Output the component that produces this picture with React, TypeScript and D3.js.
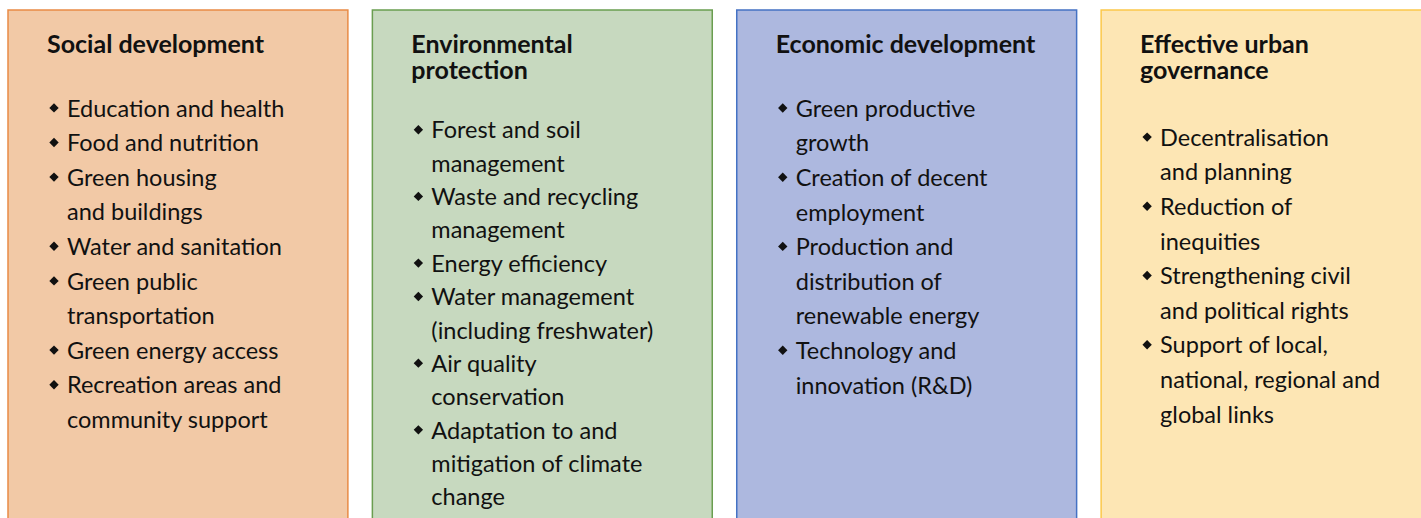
import React, { useEffect } from "react";
import * as d3 from "d3";

// panel titles (already broken into lines as in the figure)
const categories = ["Social development", "Environmental protection", "Economic development", "Effective urban governance"];
const titleLines = [["Social development"], ["Environmental", "protection"], ["Economic development"], ["Effective urban", "governance"]];

// bullet items, each item is a list of wrapped lines
const socialItems = [
  ["Education and health"],
  ["Food and nutrition"],
  ["Green housing", "and buildings"],
  ["Water and sanitation"],
  ["Green public", "transportation"],
  ["Green energy access"],
  ["Recreation areas and", "community support"],
];
const environmentItems = [
  ["Forest and soil", "management"],
  ["Waste and recycling", "management"],
  ["Energy efficiency"],
  ["Water management", "(including freshwater)"],
  ["Air quality", "conservation"],
  ["Adaptation to and", "mitigation of climate", "change"],
];
const economicItems = [
  ["Green productive", "growth"],
  ["Creation of decent", "employment"],
  ["Production and", "distribution of", "renewable energy"],
  ["Technology and", "innovation (R&D)"],
];
const governanceItems = [
  ["Decentralisation", "and planning"],
  ["Reduction of", "inequities"],
  ["Strengthening civil", "and political rights"],
  ["Support of local,", "national, regional and", "global links"],
];
const panelItems = [socialItems, environmentItems, economicItems, governanceItems];

const fills = ["#f2c9a6", "#c7d9bf", "#adb8df", "#fde6b4"];
const strokes = ["#e98b45", "#6a9e50", "#4472c4", "#fcc84a"];

// layout
const width = 1421;
const height = 518;
const top = 10;
const firstLine = [116.6, 138.4, 116.7, 145.8];
const lineStep = [34.6, 33.35, 34.6, 34.6];
const font = "Lato, 'Open Sans', sans-serif";

export default function App() {
  useEffect(() => {
    document.body.style.margin = "0";
  }, []);

  const x = d3.scaleBand<string>()
    .domain(categories)
    .range([8, 1441])
    .paddingInner(24.5 / 364.5)
    .paddingOuter(0);

  const diamond = d3.symbol().type(d3.symbolSquare).size(44)();

  return (
    <svg width={width} height={height} style={{ display: "block", overflow: "hidden" }}>
      {categories.map((c, i) => {
        const x0 = x(c) as number;
        const y = d3.scaleLinear().domain([0, 1]).range([firstLine[i], firstLine[i] + lineStep[i]]);
        let row = 0;
        return (
          <g key={c}>
            <rect x={x0} y={top} width={x.bandwidth()} height={height + 20}
              fill={fills[i]} stroke={strokes[i]} strokeWidth={1.5} />
            <text x={x0 + 39} y={52.5} fontFamily={font} fontWeight={700} fontSize={25} fill="#111">
              {titleLines[i].map((t, k) => (
                <tspan key={t} x={x0 + 39} dy={k === 0 ? 0 : 26}>{t}</tspan>
              ))}
            </text>
            {panelItems[i].map((item, j) => {
              const start = row;
              row += item.length;
              return (
                <g key={j}>
                  <path d={diamond} fill="#111"
                    transform={`translate(${x0 + 46},${y(start) - 8.7}) rotate(45)`} />
                  {item.map((line, k) => (
                    <text key={k} x={x0 + 59} y={y(start + k)} fontFamily={font}
                      fontSize={23.5} fill="#111">{line}</text>
                  ))}
                </g>
              );
            })}
          </g>
        );
      })}
    </svg>
  );
}
